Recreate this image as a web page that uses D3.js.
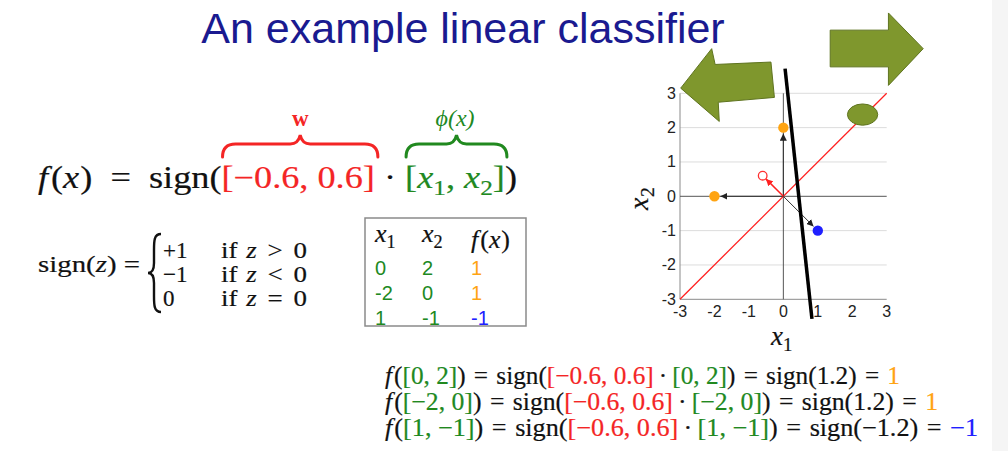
<!DOCTYPE html>
<html lang="en">
<head>
<meta charset="UTF-8">
<title>An example linear classifier</title>
<script src="https://cdn.jsdelivr.net/npm/d3@7"></script>
<style>
  body { margin: 0; background: #fff; }
  svg { display: block; }
</style>
</head>
<body>
<script>
// ---- data ----
const title = "An example linear classifier";
const w = [-0.6, 0.6];
const x1 = [0, -2, 1];
const x2 = [2, 0, -1];
const fx = [1, 1, -1];
const dots = [1.2, 1.2, -1.2];
const ticks = [-3, -2, -1, 0, 1, 2, 3];
// hand drawn black boundary line, ends in data units
const boundary = [[0.05, 3.72], [0.83, -3.57]];
// decorative green arrows / blob, in data units
const leftArrow = [[-2.98, 3.15], [-2.08, 4.30], [-1.98, 3.84], [-0.36, 3.91], [-0.26, 2.88], [-1.89, 2.74], [-1.86, 2.18]];
const rightArrow = [[1.36, 4.84], [3.05, 4.84], [3.05, 5.34], [4.06, 4.30], [3.05, 3.23], [3.05, 3.77], [1.36, 3.77]];
const blob = {cx: 2.30, cy: 2.38, rx: 0.44, ry: 0.31};

const red = "#f42525", green = "#21891f", orange = "#ffa412", blue = "#2020ff", olive = "#7f972d";
const serif = "'Liberation Serif', 'Times New Roman', serif";
const sans = "'Liberation Sans', Arial, sans-serif";
const fmt = v => (v < 0 ? "\u2212" : "") + Math.abs(v);
const colOf = v => v > 0 ? orange : blue;

const svg = d3.select("body").append("svg").attr("width", 1008).attr("height", 451);

// right grey strip
svg.append("rect").attr("x", 992).attr("y", 0).attr("width", 16).attr("height", 451).attr("fill", "#f5f5f5");

// title
svg.append("text").attr("x", 463).attr("y", 43).attr("text-anchor", "middle")
  .attr("font-family", sans).attr("font-size", 43).attr("fill", "#1a1a90").text(title);

// lay out math runs; {g: k} is a gap of k quarter-ems; whole line scaled to width
// returns absolute x ranges of the runs
function mathLine(runs, x0, y0, size, width) {
  const g = svg.append("g");
  let cx = 0;
  const pos = [];
  runs.forEach(r => {
    let ww;
    if (r.g !== undefined) {
      ww = r.g * 0.25 * size;
    } else {
      const fs = r.sub ? size * 0.7 : size;
      const t = g.append("text").attr("x", cx).attr("y", r.sub ? size * 0.22 : 0)
        .attr("font-size", fs).attr("font-family", serif)
        .attr("font-style", r.it ? "italic" : "normal")
        .attr("fill", r.c || "#111").attr("stroke", r.c || "#111").attr("stroke-width", 0.2)
        .style("white-space", "pre").text(r.t);
      ww = t.node().getComputedTextLength() + (r.pad || 0) * size;
    }
    pos.push([cx, cx + ww]);
    cx += ww;
  });
  const sx = width ? width / cx : 1;
  g.attr("transform", `translate(${x0},${y0}) scale(${sx},1)`);
  return pos.map(p => [x0 + p[0] * sx, x0 + p[1] * sx]);
}

function overBrace(a, b, yEnd, yFlat, yPeak, color) {
  const m = (a + b) / 2;
  svg.append("path")
    .attr("d", `M${a},${yEnd} Q${a},${yFlat} ${a + 13},${yFlat} L${m - 10},${yFlat} Q${m - 2},${yFlat} ${m},${yPeak} Q${m + 2},${yFlat} ${m + 10},${yFlat} L${b - 13},${yFlat} Q${b},${yFlat} ${b},${yEnd}`)
    .attr("fill", "none").attr("stroke", color).attr("stroke-width", 3).attr("stroke-linecap", "round");
}

// ---- main formula ----
const wTxt = `[${fmt(w[0])}, ${fmt(w[1])}]`;
const mainPos = mathLine([
  {t: "f", it: true, pad: 0.08}, {t: "("}, {t: "x", it: true, pad: 0.03}, {t: ")"}, {g: 2}, {t: "="}, {g: 2}, {t: "sign("},
  {t: wTxt, c: red}, {g: 1}, {t: "\u00b7"}, {g: 1},
  {t: "[", c: green}, {t: "x", it: true, c: green}, {t: "1", sub: true, c: green}, {t: ", ", c: green},
  {t: "x", it: true, c: green}, {t: "2", sub: true, c: green}, {t: "]", c: green}, {t: ")"}
], 38, 188, 31, 479);

overBrace(mainPos[8][0] + 1, mainPos[8][1] + 3, 157, 144, 135, red);
overBrace(mainPos[12][0] + 1, mainPos[18][1] + 2, 157, 144, 135, green);
svg.append("text").attr("x", (mainPos[8][0] + mainPos[8][1]) / 2 + 2).attr("y", 126).attr("text-anchor", "middle")
  .attr("font-family", serif).attr("font-weight", "bold").attr("font-size", 23).attr("fill", red).text("w");
svg.append("text").attr("x", (mainPos[12][0] + mainPos[18][1]) / 2).attr("y", 126).attr("text-anchor", "middle")
  .attr("font-family", serif).attr("font-style", "italic").attr("font-size", 24).attr("fill", green).text("\u03d5(x)");

// ---- sign definition ----
mathLine([{t: "sign("}, {t: "z", it: true}, {t: ")"}, {g: 1}, {t: "="}], 38, 272, 23, 102);
svg.append("path")
  .attr("d", "M161,234 C154,234 154,241 154,250 L154,263 C154,270 152,273 148,273 C152,273 154,276 154,283 L154,296 C154,305 154,312 161,312")
  .attr("fill", "none").attr("stroke", "#111").attr("stroke-width", 2.4);
const cases = [["+1", ">", 258], ["\u22121", "<", 282], ["0", "=", 306]];
cases.forEach(c => {
  mathLine([{t: c[0]}], 163, c[2], 23);
  mathLine([{t: "if"}, {g: 1.3}, {t: "z", it: true}, {g: 1.6}, {t: c[1]}, {g: 1.6}, {t: "0"}], 221, c[2], 23, 86);
});

// ---- table ----
svg.append("rect").attr("x", 365).attr("y", 218).attr("width", 161).attr("height", 108)
  .attr("fill", "none").attr("stroke", "#8a8a8a").attr("stroke-width", 1.5);
const cols = [375, 422, 471];
mathLine([{t: "x", it: true}, {t: "1", sub: true}], cols[0], 242, 26);
mathLine([{t: "x", it: true}, {t: "2", sub: true}], cols[1], 242, 26);
mathLine([{t: "f", it: true, pad: 0.08}, {t: "("}, {t: "x", it: true, pad: 0.03}, {t: ")"}], cols[2], 248, 26);
const rowY = [275, 300, 325];
x1.forEach((v, i) => {
  svg.append("text").attr("x", cols[0]).attr("y", rowY[i]).attr("font-family", sans).attr("font-size", 20).attr("fill", green).text(v);
  svg.append("text").attr("x", cols[1]).attr("y", rowY[i]).attr("font-family", sans).attr("font-size", 20).attr("fill", green).text(x2[i]);
  svg.append("text").attr("x", cols[2]).attr("y", rowY[i]).attr("font-family", sans).attr("font-size", 20).attr("fill", colOf(fx[i])).text(fx[i]);
});

// ---- worked examples ----
const lineY = [384, 410, 436];
const lineW = [515, 553, 593];
x1.forEach((v, i) => {
  const pt = `[${fmt(v)}, ${fmt(x2[i])}]`;
  mathLine([
    {t: "f", it: true, pad: 0.08}, {t: "("}, {t: pt, c: green}, {t: ")"}, {g: 1.3}, {t: "="}, {g: 1.3}, {t: "sign("},
    {t: wTxt, c: red}, {g: 0.8}, {t: "\u00b7"}, {g: 0.8}, {t: pt, c: green}, {t: ")"}, {g: 1.3}, {t: "="}, {g: 1.3},
    {t: "sign(" + fmt(dots[i]) + ")"}, {g: 1.3}, {t: "="}, {g: 1.3},
    {t: fmt(fx[i]), c: colOf(fx[i])}
  ], 385, lineY[i], 25, lineW[i]);
});

// ---- chart ----
const xs = d3.scaleLinear().domain([-3, 3]).range([680, 886.7]);
const ys = d3.scaleLinear().domain([-3, 3]).range([299.3, 93.3]);
const chart = svg.append("g");

chart.selectAll(".grid").data(ticks.filter(t => t !== 0 && t !== -3)).join("line")
  .attr("x1", xs(-3)).attr("x2", xs(3)).attr("y1", d => ys(d)).attr("y2", d => ys(d))
  .attr("stroke", "#dcdcdc").attr("stroke-width", 1);
chart.append("line").attr("x1", xs(-3)).attr("x2", xs(3)).attr("y1", ys(-3)).attr("y2", ys(-3)).attr("stroke", "#8a8a8a");
chart.append("line").attr("x1", xs(-3)).attr("x2", xs(-3)).attr("y1", ys(-3)).attr("y2", ys(3)).attr("stroke", "#8a8a8a");
chart.append("line").attr("x1", xs(-3)).attr("x2", xs(3)).attr("y1", ys(0)).attr("y2", ys(0)).attr("stroke", "#555");
chart.append("line").attr("x1", xs(0)).attr("x2", xs(0)).attr("y1", ys(-3)).attr("y2", ys(3)).attr("stroke", "#555");

chart.selectAll(".ylab").data(ticks).join("text")
  .attr("x", 676).attr("y", d => ys(d) + 5.5).attr("text-anchor", "end")
  .attr("font-family", sans).attr("font-size", 16).attr("fill", "#222").text(d => d);
chart.selectAll(".xlab").data(ticks).join("text")
  .attr("x", d => xs(d)).attr("y", 317).attr("text-anchor", "middle")
  .attr("font-family", sans).attr("font-size", 16).attr("fill", "#222").text(d => d);

mathLine([{t: "x", it: true}, {t: "1", sub: true}], 771, 345, 27);
const yl = svg.append("g").attr("transform", "translate(648,210) rotate(-90)");
yl.append("text").attr("font-family", serif).attr("font-style", "italic").attr("font-size", 28)
  .attr("fill", "#111").attr("stroke", "#111").attr("stroke-width", 0.2).text("x");
yl.append("text").attr("x", 13).attr("y", 6).attr("font-family", serif).attr("font-size", 19.6)
  .attr("fill", "#111").attr("stroke", "#111").attr("stroke-width", 0.2).text("2");

// red line through origin
chart.append("line").attr("x1", xs(-3)).attr("y1", ys(-3)).attr("x2", xs(3)).attr("y2", ys(3))
  .attr("stroke", "#ff2020").attr("stroke-width", 1.3);

// arrowheads
const defs = svg.append("defs");
[["ahBlack", "#222"], ["ahRed", "#ff2020"]].forEach(m => {
  defs.append("marker").attr("id", m[0]).attr("viewBox", "0 0 10 10").attr("refX", 10).attr("refY", 5)
    .attr("markerWidth", 7).attr("markerHeight", 7).attr("markerUnits", "userSpaceOnUse").attr("orient", "auto")
    .append("path").attr("d", "M0,0 L10,5 L0,10 Z").attr("fill", m[1]);
});
function arrowTo(px, py, gap, color, marker, sw) {
  const ox = xs(0), oy = ys(0), tx = xs(px), ty = ys(py);
  const len = Math.hypot(tx - ox, ty - oy);
  const k = (len - gap) / len;
  chart.append("line").attr("x1", ox).attr("y1", oy).attr("x2", ox + (tx - ox) * k).attr("y2", oy + (ty - oy) * k)
    .attr("stroke", color).attr("stroke-width", sw).attr("marker-end", `url(#${marker})`);
}
x1.forEach((v, i) => arrowTo(v, x2[i], 6, "#333", "ahBlack", 1));
arrowTo(w[0], w[1], 4.5, "#ff2020", "ahRed", 1.5);

chart.append("circle").attr("cx", xs(w[0])).attr("cy", ys(w[1])).attr("r", 4.3)
  .attr("fill", "#fff").attr("stroke", "#ff3030").attr("stroke-width", 1.3);
chart.selectAll(".pt").data(x1).join("circle")
  .attr("cx", d => xs(d)).attr("cy", (d, i) => ys(x2[i])).attr("r", 5.2)
  .attr("fill", (d, i) => colOf(fx[i]));

// hand drawn boundary
chart.append("line").attr("x1", xs(boundary[0][0])).attr("y1", ys(boundary[0][1]))
  .attr("x2", xs(boundary[1][0])).attr("y2", ys(boundary[1][1]))
  .attr("stroke", "#000").attr("stroke-width", 3.5);

// green shapes
const shape = d3.line().x(d => xs(d[0])).y(d => ys(d[1]));
[leftArrow, rightArrow].forEach(a => {
  chart.append("path").attr("d", shape(a) + "Z").attr("fill", olive).attr("stroke", "#5f7420").attr("stroke-width", 1);
});
chart.append("ellipse").attr("cx", xs(blob.cx)).attr("cy", ys(blob.cy))
  .attr("rx", xs(blob.rx) - xs(0)).attr("ry", ys(0) - ys(blob.ry))
  .attr("fill", olive).attr("stroke", "#5f7420").attr("stroke-width", 1);
</script>
</body>
</html>
